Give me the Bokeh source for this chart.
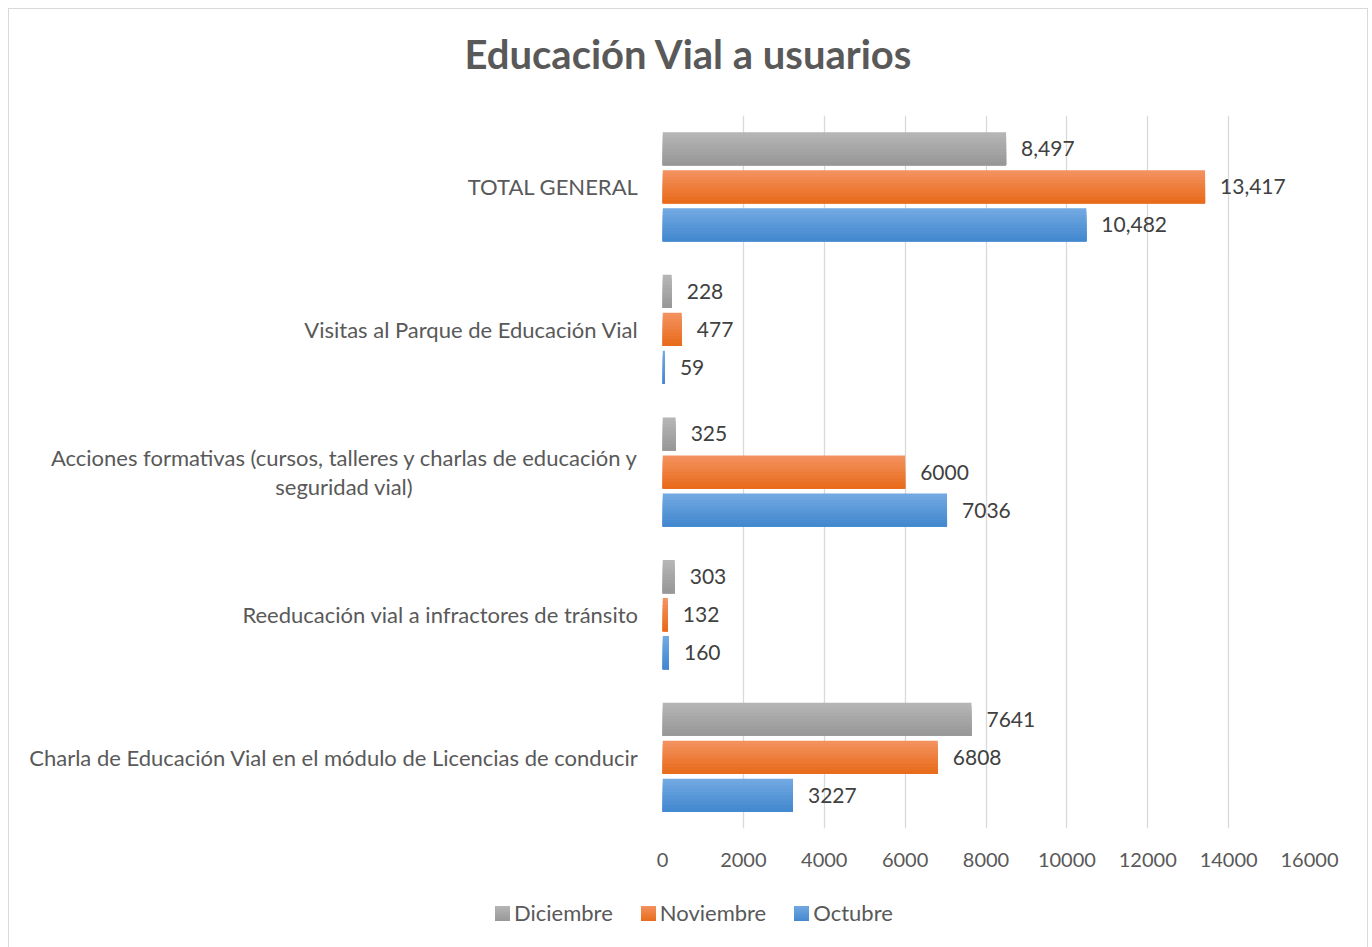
from bokeh.plotting import figure
from bokeh.layouts import column
from bokeh.models import Range1d, FactorRange, ColumnDataSource, FixedTicker, Div
from bokeh.transform import dodge
from bokeh.core.properties import value
from bokeh.embed import file_html
from bokeh.resources import INLINE

# ---------------- data ----------------
categories = [
    "Charla de Educación Vial en el módulo de Licencias de conducir",
    "Reeducación vial a infractores de tránsito",
    "Acciones formativas (cursos, talleres y charlas de educación y\nseguridad vial)",
    "Visitas al Parque de Educación Vial",
    "TOTAL GENERAL",
]
octubre = [3227, 160, 7036, 59, 10482]
noviembre = [6808, 132, 6000, 477, 13417]
diciembre = [7641, 303, 325, 228, 8497]
series_names = ["Octubre", "Noviembre", "Diciembre"]
legend_order = ["Diciembre", "Noviembre", "Octubre"]
x_ticks = [0, 2000, 4000, 6000, 8000, 10000, 12000, 14000, 16000]
title_text = "Educación Vial a usuarios"

FONT = "Lato"
TXT = "#595959"

# gradient colours (top, bottom) for each series
grad = {
    "Octubre": ((0x71, 0xA8, 0xE1), (0x44, 0x89, 0xCF)),
    "Noviembre": ((0xF3, 0x91, 0x5E), (0xE8, 0x6C, 0x1C)),
    "Diciembre": ((0xB5, 0xB5, 0xB5), (0x98, 0x98, 0x98)),
}
offsets = {"Octubre": -0.2665, "Noviembre": 0.0, "Diciembre": 0.2665}
BAR_H = 0.232
N_STRIPS = 10


def hexc(c):
    return "#%02x%02x%02x" % c


# axis factors: the wrapped label gets its last line padded so it looks centred
def axis_factor(c):
    return c + "\u00a0" * 40 + "\u200b" if "\n" in c else c


factors = [axis_factor(c) for c in categories]

W = 1358
H_TITLE, H_PLOT, H_LEG = 92, 787, 59

# ---------------- title ----------------
title_div = Div(
    text=(f'<div style="width:{W}px;height:{H_TITLE}px;line-height:90px;'
          f'text-align:center;font-family:{FONT};font-weight:bold;font-size:40px;'
          f'color:{TXT};white-space:nowrap;">{title_text}</div>'),
    width=W, height=H_TITLE, margin=0)

# ---------------- plot ----------------
p = figure(width=W, height=H_PLOT, output_backend="svg", toolbar_location=None,
           x_range=Range1d(0, 16000),
           y_range=FactorRange(factors=factors, range_padding=0),
           min_border_left=653, min_border_right=58,
           min_border_top=14, min_border_bottom=60)
p.title = None
p.outline_line_color = None
p.background_fill_color = "white"
p.border_fill_color = "white"

for name, vals in zip(series_names, [octubre, noviembre, diciembre]):
    labels = [f"{v:,}" if c == "TOTAL GENERAL" else str(v)
              for c, v in zip(categories, vals)]
    src = ColumnDataSource(dict(cat=factors, val=vals, lab=labels))
    top, bot = grad[name]
    sh = BAR_H / N_STRIPS
    for k in range(N_STRIPS):
        t = k / (N_STRIPS - 1)
        col = tuple(int(round(top[i] + (bot[i] - top[i]) * t)) for i in range(3))
        hk = BAR_H - k * sh
        off = offsets[name] + BAR_H / 2 - k * sh - hk / 2
        p.hbar(y=dodge("cat", off, range=p.y_range), right="val", left=0,
               height=hk, source=src, fill_color=hexc(col), line_color=None)
    p.text(x="val", y=dodge("cat", offsets[name], range=p.y_range), text="lab",
           source=src, x_offset=15, text_baseline="middle", text_align="left",
           text_font=value(FONT), text_font_size="21px", text_color="#404040")

# axes
p.xaxis.ticker = FixedTicker(ticks=x_ticks)
p.xaxis.axis_line_color = None
p.xaxis.major_tick_line_color = None
p.xaxis.minor_tick_line_color = None
p.xaxis.major_tick_out = 0
p.xaxis.major_label_standoff = 24
p.xaxis.major_label_text_font = FONT
p.xaxis.major_label_text_font_size = "20px"
p.xaxis.major_label_text_color = TXT

p.yaxis.axis_line_color = None
p.yaxis.major_tick_line_color = None
p.yaxis.minor_tick_line_color = None
p.yaxis.major_tick_out = 0
p.yaxis.major_label_standoff = 24
p.yaxis.major_label_text_font = FONT
p.yaxis.major_label_text_font_size = "22px"
p.yaxis.major_label_text_line_height = 1.05
p.yaxis.major_label_text_color = TXT

p.xgrid.grid_line_color = "#d9d9d9"
p.xgrid.grid_line_width = 1.3
p.ygrid.grid_line_color = None

# ---------------- legend ----------------
items_html = "".join(
    f'<span style="display:inline-block;width:15px;height:15px;'
    f'background:linear-gradient({hexc(grad[n][0])},{hexc(grad[n][1])});'
    f'margin-right:4px;"></span><span style="margin-right:28px;">{n}</span>'
    for n in legend_order)
leg_div = Div(
    text=(f'<div style="display:flex;align-items:center;height:50px;'
          f'padding-left:486px;font-family:{FONT};font-size:22px;color:{TXT};'
          f'white-space:nowrap;">{items_html}</div>'),
    width=W, height=H_LEG, margin=0)

layout = column(title_div, p, leg_div, spacing=0)
layout.styles = {"border": "1px solid #d9d9d9", "margin": "8px 0 0 8px"}

open("out.html", "w").write(file_html(layout, INLINE))
